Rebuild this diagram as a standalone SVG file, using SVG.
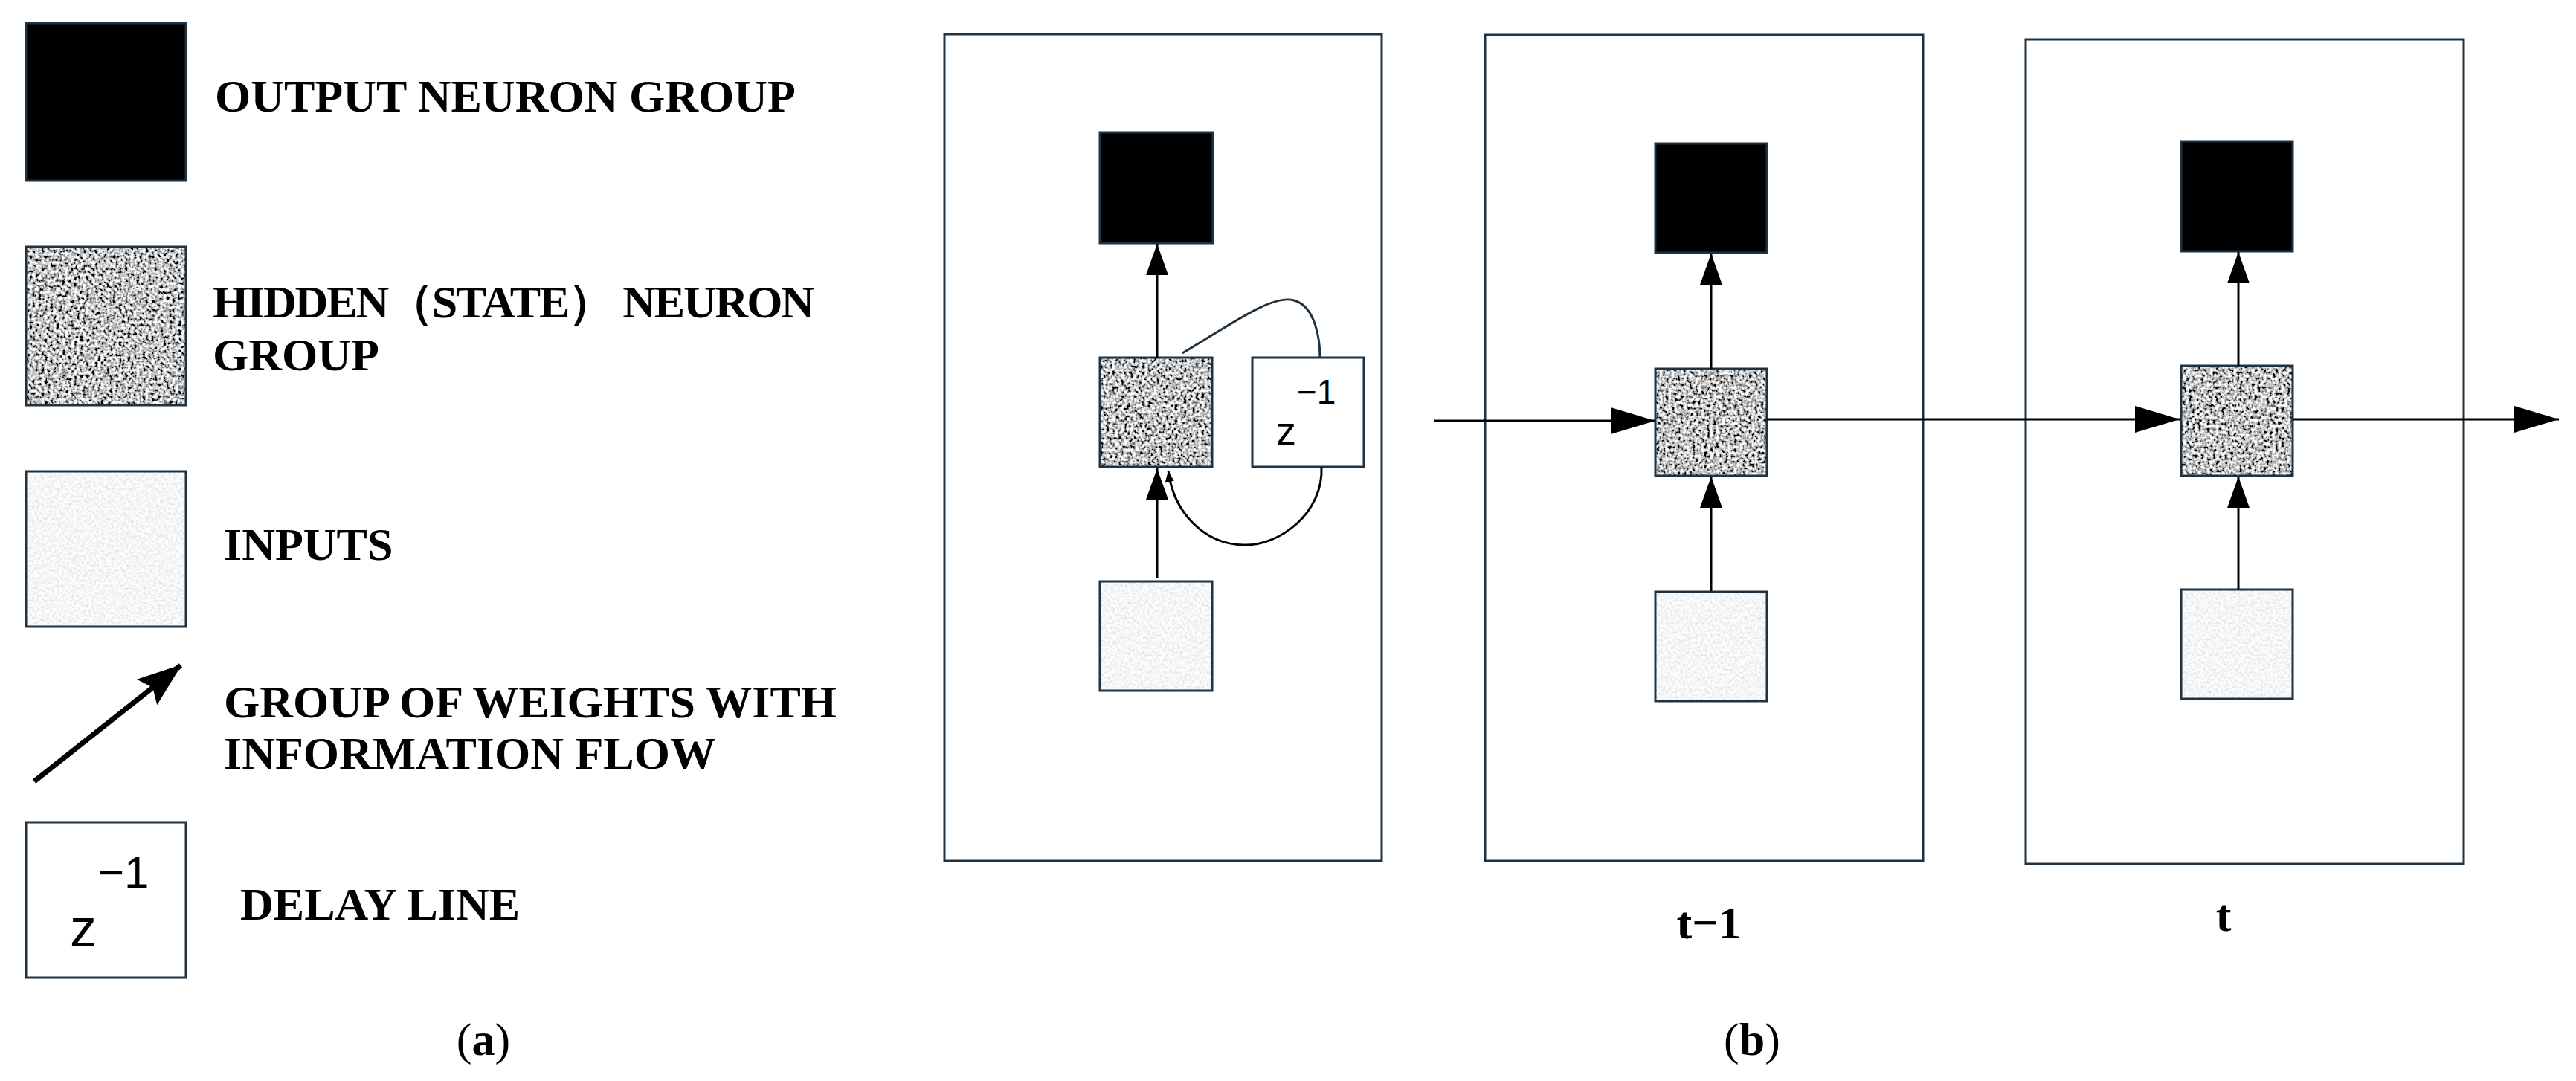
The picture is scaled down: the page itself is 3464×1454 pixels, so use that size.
<svg xmlns="http://www.w3.org/2000/svg" width="3464" height="1454" viewBox="0 0 3464 1454">
<style>
.frame{fill:none;stroke:#1f3242;stroke-width:3}
.box{stroke:#1f3242;stroke-width:3}
.out{fill:#000}
.hid{fill:#888;filter:url(#noiseDark)}
.inp{fill:#eee;filter:url(#noiseLight)}
.edge{stroke:#000;stroke-width:3;fill:none}
.lbl{font-family:"Liberation Serif","Times New Roman",serif;font-weight:bold;font-size:62px;fill:#000}
.z{font-family:"Liberation Sans",Arial,sans-serif;fill:#000}
.cap{font-family:"Liberation Serif",serif;font-size:62px;fill:#000}
</style>
<defs>
<filter id="noiseDark" x="0" y="0" width="100%" height="100%">
<feTurbulence type="fractalNoise" baseFrequency="0.25" numOctaves="2" seed="3"/>
<feColorMatrix type="matrix" values="2.8 0 0 0 -0.85  2.8 0 0 0 -0.85  2.8 0 0 0 -0.85  0 0 0 0 1"/>
<feComposite in2="SourceGraphic" operator="in"/>
</filter>
<filter id="noiseLight" x="0" y="0" width="100%" height="100%">
<feTurbulence type="fractalNoise" baseFrequency="0.3" numOctaves="2" seed="7"/>
<feColorMatrix type="matrix" values="0.5 0 0 0 0.67  0.5 0 0 0 0.67  0.5 0 0 0 0.67  0 0 0 0 1"/>
<feComposite in2="SourceGraphic" operator="in"/>
</filter>
<marker id="ah" markerUnits="userSpaceOnUse" markerWidth="44" markerHeight="30" refX="42" refY="15" orient="auto"><path d="M0,0 L42,15 L0,30 Z" fill="#000"/></marker>
<marker id="ahL" markerUnits="userSpaceOnUse" markerWidth="62" markerHeight="36" refX="60" refY="18" orient="auto"><path d="M0,0 L60,18 L0,36 Z" fill="#000"/></marker>
<marker id="ahS" markerUnits="userSpaceOnUse" markerWidth="16" markerHeight="12" refX="15" refY="6" orient="auto"><path d="M0,0 L15,6 L0,12 Z" fill="#000"/></marker>
<marker id="ahLeg" markerUnits="userSpaceOnUse" markerWidth="62" markerHeight="44" refX="58" refY="22" orient="auto"><path d="M0,0 L60,22 L0,44 L10,22 Z" fill="#000"/></marker>
</defs>

<g id="legend">
<g id="leg-output"><rect class="box out" x="35" y="31" width="215" height="212"/><text class="lbl" x="289" y="150">OUTPUT NEURON GROUP</text></g>
<g id="leg-hidden"><rect class="hid" x="35" y="332" width="215" height="213"/><rect class="frame" x="35" y="332" width="215" height="213"/><text class="lbl" x="286" y="427" textLength="809" lengthAdjust="spacing">HIDDEN（STATE） NEURON</text><text class="lbl" x="286" y="498">GROUP</text></g>
<g id="leg-inputs"><rect class="inp" x="35" y="634" width="215" height="209"/><rect class="frame" x="35" y="634" width="215" height="209"/><text class="lbl" x="301" y="753">INPUTS</text></g>
<g id="leg-arrow"><line x1="46" y1="1051" x2="243" y2="895" stroke="#000" stroke-width="7" marker-end="url(#ahLeg)"/><text class="lbl" x="301" y="965">GROUP OF WEIGHTS WITH</text><text class="lbl" x="301" y="1034">INFORMATION FLOW</text></g>
<g id="leg-delay"><rect class="box" fill="#fff" x="35" y="1106" width="215" height="209"/><text class="z" x="94" y="1273" font-size="72">z</text><text class="z" x="132" y="1194" font-size="60">−1</text><text class="lbl" x="323" y="1237">DELAY LINE</text></g>
<text class="cap" x="650" y="1419" text-anchor="middle">(<tspan font-weight="bold">a</tspan>)</text>
</g>

<g id="panel1">
<rect class="frame" x="1270" y="46" width="588" height="1112"/>
<g id="p1-out"><rect class="box out" x="1479" y="178" width="152" height="149"/></g>
<g id="p1-hid"><rect class="hid" x="1479" y="481" width="151" height="147"/><rect class="frame" x="1479" y="481" width="151" height="147"/></g>
<g id="p1-inp"><rect class="inp" x="1479" y="782" width="151" height="147"/><rect class="frame" x="1479" y="782" width="151" height="147"/></g>
<g id="p1-delay"><rect class="box" fill="#fff" x="1684" y="481" width="150" height="147"/><text class="z" x="1716" y="598" font-size="54">z</text><text class="z" x="1744" y="543" font-size="46">−1</text></g>
</g>
<g id="panel2">
<rect class="frame" x="1997" y="47" width="589" height="1111"/>
<g id="p2-out"><rect class="box out" x="2226" y="193" width="150" height="147"/></g>
<g id="p2-hid"><rect class="hid" x="2226" y="496" width="150" height="144"/><rect class="frame" x="2226" y="496" width="150" height="144"/></g>
<g id="p2-inp"><rect class="inp" x="2226" y="796" width="150" height="147"/><rect class="frame" x="2226" y="796" width="150" height="147"/></g>
<text class="lbl" x="2298" y="1262" text-anchor="middle">t−1</text>
</g>
<g id="panel3">
<rect class="frame" x="2724" y="53" width="589" height="1109"/>
<g id="p3-out"><rect class="box out" x="2933" y="190" width="150" height="148"/></g>
<g id="p3-hid"><rect class="hid" x="2933" y="492" width="150" height="148"/><rect class="frame" x="2933" y="492" width="150" height="148"/></g>
<g id="p3-inp"><rect class="inp" x="2933" y="793" width="150" height="147"/><rect class="frame" x="2933" y="793" width="150" height="147"/></g>
<text class="lbl" x="2990" y="1252" text-anchor="middle">t</text>
</g>
<text class="cap" x="2356" y="1419" text-anchor="middle">(<tspan font-weight="bold">b</tspan>)</text>

<g id="connectors">
<line class="edge" x1="1556" y1="481" x2="1556" y2="328" marker-end="url(#ah)"/>
<line class="edge" x1="1556" y1="778" x2="1556" y2="630" marker-end="url(#ah)"/>
<path d="M1590,475 C1650,440 1710,395 1740,404 C1770,412 1775,460 1775,481" fill="none" stroke="#1f3242" stroke-width="3"/>
<path class="edge" d="M1777,628 C1780,690 1720,735 1672,733 C1620,732 1578,690 1571,633" stroke-width="4" marker-end="url(#ahS)"/>
<line class="edge" x1="1929" y1="566" x2="2226" y2="566" marker-end="url(#ahL)"/>
<line class="edge" x1="2301" y1="496" x2="2301" y2="341" marker-end="url(#ah)"/>
<line class="edge" x1="2301" y1="795" x2="2301" y2="641" marker-end="url(#ah)"/>
<line class="edge" x1="2376" y1="564" x2="2931" y2="564" marker-end="url(#ahL)"/>
<line class="edge" x1="3010" y1="492" x2="3010" y2="339" marker-end="url(#ah)"/>
<line class="edge" x1="3010" y1="792" x2="3010" y2="641" marker-end="url(#ah)"/>
<line class="edge" x1="3083" y1="564" x2="3441" y2="564" marker-end="url(#ahL)"/>
</g>
</svg>
